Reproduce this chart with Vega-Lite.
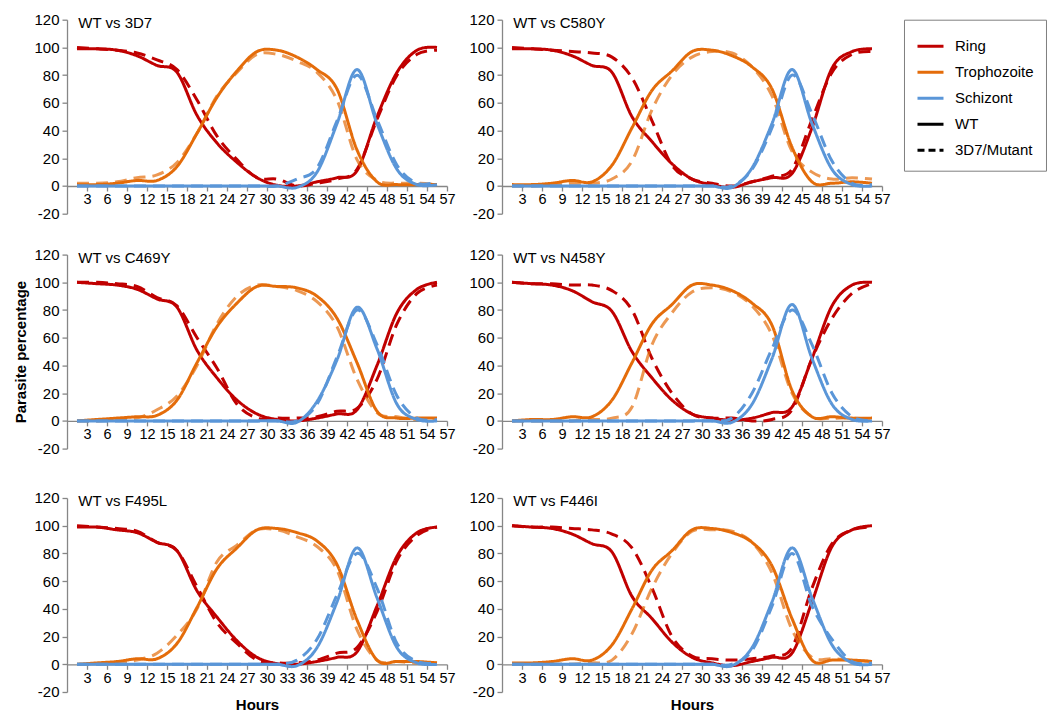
{
"$schema":"https://vega.github.io/schema/vega-lite/v6.json",
"padding":{"left":13,"top":12.7,"right":5,"bottom":3},
"config":{"font":"Liberation Sans","view":{"stroke":null},
"axis":{"domainColor":"#868686","tickColor":"#868686","domainWidth":1.3,"tickWidth":1.3,"labelColor":"#000","titleColor":"#000","grid":false,"titleFontSize":15,"titleFontWeight":"bold","labelFont":"Liberation Sans","titleFont":"Liberation Sans"},
"axisX":{"offset":-27.7,"tickSize":5,"labelPadding":2,"labelFontSize":14.5,"titlePadding":13},
"axisY":{"tickSize":5,"labelPadding":3,"labelFontSize":15,"titlePadding":5},
"legend":{"labelFont":"Liberation Sans","labelFontSize":15,"labelColor":"#000"}},
"resolve":{"scale":{"color":"shared","strokeDash":"shared"}},
"spacing":25.9,
"vconcat":[
{"hconcat":[
{"width":380,"height":194,
"data":{"values":[
{"s":"R","g":"W","h":1.5,"v":99},{"s":"R","g":"W","h":4.5,"v":99},{"s":"R","g":"W","h":7.5,"v":98},{"s":"R","g":"W","h":10.5,"v":94},{"s":"R","g":"W","h":13.5,"v":87},{"s":"R","g":"W","h":16.5,"v":82},{"s":"R","g":"W","h":19.5,"v":51},{"s":"R","g":"W","h":22.5,"v":31},{"s":"R","g":"W","h":25.5,"v":17},{"s":"R","g":"W","h":28.5,"v":6},{"s":"R","g":"W","h":31.5,"v":0.5},{"s":"R","g":"W","h":34.5,"v":0},{"s":"R","g":"W","h":37.5,"v":3},{"s":"R","g":"W","h":40.5,"v":6},{"s":"R","g":"W","h":43.5,"v":11},{"s":"R","g":"W","h":46.5,"v":50},{"s":"R","g":"W","h":49.5,"v":82},{"s":"R","g":"W","h":52.5,"v":98},{"s":"R","g":"W","h":55.5,"v":100},
{"s":"R","g":"M","h":1.5,"v":100},{"s":"R","g":"M","h":4.5,"v":99},{"s":"R","g":"M","h":7.5,"v":98},{"s":"R","g":"M","h":10.5,"v":96},{"s":"R","g":"M","h":13.5,"v":91},{"s":"R","g":"M","h":16.5,"v":84},{"s":"R","g":"M","h":19.5,"v":62},{"s":"R","g":"M","h":22.5,"v":36},{"s":"R","g":"M","h":25.5,"v":19},{"s":"R","g":"M","h":28.5,"v":6},{"s":"R","g":"M","h":31.5,"v":5},{"s":"R","g":"M","h":34.5,"v":0},{"s":"R","g":"M","h":37.5,"v":2},{"s":"R","g":"M","h":40.5,"v":5},{"s":"R","g":"M","h":43.5,"v":12},{"s":"R","g":"M","h":46.5,"v":48},{"s":"R","g":"M","h":49.5,"v":80},{"s":"R","g":"M","h":52.5,"v":95},{"s":"R","g":"M","h":55.5,"v":98},
{"s":"T","g":"W","h":1.5,"v":1},{"s":"T","g":"W","h":4.5,"v":1},{"s":"T","g":"W","h":7.5,"v":2},{"s":"T","g":"W","h":10.5,"v":4},{"s":"T","g":"W","h":13.5,"v":4},{"s":"T","g":"W","h":16.5,"v":14},{"s":"T","g":"W","h":19.5,"v":38},{"s":"T","g":"W","h":22.5,"v":64},{"s":"T","g":"W","h":25.5,"v":83},{"s":"T","g":"W","h":28.5,"v":97},{"s":"T","g":"W","h":31.5,"v":98},{"s":"T","g":"W","h":34.5,"v":93},{"s":"T","g":"W","h":37.5,"v":84},{"s":"T","g":"W","h":40.5,"v":70},{"s":"T","g":"W","h":43.5,"v":26},{"s":"T","g":"W","h":46.5,"v":3},{"s":"T","g":"W","h":49.5,"v":1},{"s":"T","g":"W","h":52.5,"v":1},{"s":"T","g":"W","h":55.5,"v":1},
{"s":"T","g":"M","h":1.5,"v":2},{"s":"T","g":"M","h":4.5,"v":2},{"s":"T","g":"M","h":7.5,"v":3},{"s":"T","g":"M","h":10.5,"v":6},{"s":"T","g":"M","h":13.5,"v":8},{"s":"T","g":"M","h":16.5,"v":17},{"s":"T","g":"M","h":19.5,"v":38},{"s":"T","g":"M","h":22.5,"v":65},{"s":"T","g":"M","h":25.5,"v":82},{"s":"T","g":"M","h":28.5,"v":95},{"s":"T","g":"M","h":31.5,"v":95},{"s":"T","g":"M","h":34.5,"v":90},{"s":"T","g":"M","h":37.5,"v":82},{"s":"T","g":"M","h":40.5,"v":62},{"s":"T","g":"M","h":43.5,"v":19},{"s":"T","g":"M","h":46.5,"v":4},{"s":"T","g":"M","h":49.5,"v":2},{"s":"T","g":"M","h":52.5,"v":2},{"s":"T","g":"M","h":55.5,"v":1},
{"s":"S","g":"W","h":1.5,"v":0},{"s":"S","g":"W","h":4.5,"v":0},{"s":"S","g":"W","h":7.5,"v":0},{"s":"S","g":"W","h":10.5,"v":0},{"s":"S","g":"W","h":13.5,"v":0},{"s":"S","g":"W","h":16.5,"v":0},{"s":"S","g":"W","h":19.5,"v":0},{"s":"S","g":"W","h":22.5,"v":0},{"s":"S","g":"W","h":25.5,"v":0},{"s":"S","g":"W","h":28.5,"v":0},{"s":"S","g":"W","h":31.5,"v":0},{"s":"S","g":"W","h":34.5,"v":-1},{"s":"S","g":"W","h":37.5,"v":10},{"s":"S","g":"W","h":40.5,"v":45},{"s":"S","g":"W","h":43.5,"v":84},{"s":"S","g":"W","h":46.5,"v":45},{"s":"S","g":"W","h":49.5,"v":12},{"s":"S","g":"W","h":52.5,"v":1},{"s":"S","g":"W","h":55.5,"v":1},
{"s":"S","g":"M","h":1.5,"v":0},{"s":"S","g":"M","h":4.5,"v":0},{"s":"S","g":"M","h":7.5,"v":0},{"s":"S","g":"M","h":10.5,"v":0},{"s":"S","g":"M","h":13.5,"v":0},{"s":"S","g":"M","h":16.5,"v":0},{"s":"S","g":"M","h":19.5,"v":0},{"s":"S","g":"M","h":22.5,"v":0},{"s":"S","g":"M","h":25.5,"v":0},{"s":"S","g":"M","h":28.5,"v":0},{"s":"S","g":"M","h":31.5,"v":0},{"s":"S","g":"M","h":34.5,"v":5},{"s":"S","g":"M","h":37.5,"v":13},{"s":"S","g":"M","h":40.5,"v":47},{"s":"S","g":"M","h":43.5,"v":80},{"s":"S","g":"M","h":46.5,"v":48},{"s":"S","g":"M","h":49.5,"v":15},{"s":"S","g":"M","h":52.5,"v":2},{"s":"S","g":"M","h":55.5,"v":3}
]},
"layer":[
{"mark":{"type":"line","interpolate":"cardinal","strokeWidth":3},
"encoding":{
"x":{"field":"h","type":"quantitative","scale":{"domain":[0,57],"nice":false,"zero":false},"axis":{"values":[3,6,9,12,15,18,21,24,27,30,33,36,39,42,45,48,51,54,57],"tickCount":100,"title":null,"labelOverlap":false,"labelFlush":false,"labelExpr":"''+datum.value"}},
"y":{"field":"v","type":"quantitative","scale":{"domain":[-20,120],"nice":false},"axis":{"values":[-20,0,20,40,60,80,100,120],"tickCount":100,"title":" ","labelOverlap":false,"labelFlush":false,"labelExpr":"''+datum.value"}},
"color":{"field":"s","type":"nominal","scale":{"domain":["R","T","S","W","M"],"range":["#C00000","#E46C0A","#5A96D8","#000000","#000000"]},"legend":{"title":null,"orient":"right","offset":13,"symbolType":"stroke","symbolStrokeWidth":3,"symbolSize":676,"labelOffset":10,"strokeColor":"#7f7f7f","padding":12,"rowPadding":3,"labelExpr":"datum.label=='R'?'Ring':datum.label=='T'?'Trophozoite':datum.label=='S'?'Schizont':datum.label=='W'?'WT':'3D7/Mutant'","encode":{"symbols":{"update":{"strokeDash":{"signal":"datum.value=='M'?[7,4]:[1,0]"}}}}}},
"strokeOpacity":{"condition":{"test":"datum.s=='T'&&datum.g=='M'","value":0.7},"value":1},
"strokeDash":{"field":"g","type":"nominal","scale":{"domain":["W","M"],"range":[[1,0],[12,7]]},"legend":null}}},
{"data":{"values":[{"t":"WT vs 3D7"}]},"mark":{"type":"text","align":"left","baseline":"middle","fontSize":15,"color":"#000"},
"encoding":{"x":{"datum":1.7,"type":"quantitative"},"y":{"datum":117.5,"type":"quantitative"},"text":{"field":"t"}}}
]},
{"width":380,"height":194,
"data":{"values":[
{"s":"R","g":"W","h":1.5,"v":99},{"s":"R","g":"W","h":4.5,"v":99},{"s":"R","g":"W","h":7.5,"v":98},{"s":"R","g":"W","h":10.5,"v":94},{"s":"R","g":"W","h":13.5,"v":87},{"s":"R","g":"W","h":16.5,"v":82},{"s":"R","g":"W","h":19.5,"v":50},{"s":"R","g":"W","h":22.5,"v":32},{"s":"R","g":"W","h":25.5,"v":16},{"s":"R","g":"W","h":28.5,"v":5},{"s":"R","g":"W","h":31.5,"v":1},{"s":"R","g":"W","h":34.5,"v":-1},{"s":"R","g":"W","h":37.5,"v":3},{"s":"R","g":"W","h":40.5,"v":6},{"s":"R","g":"W","h":43.5,"v":9},{"s":"R","g":"W","h":46.5,"v":42},{"s":"R","g":"W","h":49.5,"v":85},{"s":"R","g":"W","h":52.5,"v":97},{"s":"R","g":"W","h":55.5,"v":99},
{"s":"R","g":"M","h":1.5,"v":100},{"s":"R","g":"M","h":4.5,"v":99},{"s":"R","g":"M","h":7.5,"v":98},{"s":"R","g":"M","h":10.5,"v":97},{"s":"R","g":"M","h":13.5,"v":96},{"s":"R","g":"M","h":16.5,"v":93},{"s":"R","g":"M","h":19.5,"v":78},{"s":"R","g":"M","h":22.5,"v":47},{"s":"R","g":"M","h":25.5,"v":15},{"s":"R","g":"M","h":28.5,"v":5},{"s":"R","g":"M","h":31.5,"v":2},{"s":"R","g":"M","h":34.5,"v":0},{"s":"R","g":"M","h":37.5,"v":3},{"s":"R","g":"M","h":40.5,"v":7},{"s":"R","g":"M","h":43.5,"v":12},{"s":"R","g":"M","h":46.5,"v":48},{"s":"R","g":"M","h":49.5,"v":82},{"s":"R","g":"M","h":52.5,"v":95},{"s":"R","g":"M","h":55.5,"v":97},
{"s":"T","g":"W","h":1.5,"v":1},{"s":"T","g":"W","h":4.5,"v":1},{"s":"T","g":"W","h":7.5,"v":2},{"s":"T","g":"W","h":10.5,"v":4},{"s":"T","g":"W","h":13.5,"v":3},{"s":"T","g":"W","h":16.5,"v":15},{"s":"T","g":"W","h":19.5,"v":42},{"s":"T","g":"W","h":22.5,"v":69},{"s":"T","g":"W","h":25.5,"v":83},{"s":"T","g":"W","h":28.5,"v":97},{"s":"T","g":"W","h":31.5,"v":98},{"s":"T","g":"W","h":34.5,"v":94},{"s":"T","g":"W","h":37.5,"v":86},{"s":"T","g":"W","h":40.5,"v":70},{"s":"T","g":"W","h":43.5,"v":28},{"s":"T","g":"W","h":46.5,"v":3},{"s":"T","g":"W","h":49.5,"v":2},{"s":"T","g":"W","h":52.5,"v":3},{"s":"T","g":"W","h":55.5,"v":2},
{"s":"T","g":"M","h":1.5,"v":0},{"s":"T","g":"M","h":4.5,"v":0},{"s":"T","g":"M","h":7.5,"v":1},{"s":"T","g":"M","h":10.5,"v":2},{"s":"T","g":"M","h":13.5,"v":2},{"s":"T","g":"M","h":16.5,"v":5},{"s":"T","g":"M","h":19.5,"v":18},{"s":"T","g":"M","h":22.5,"v":55},{"s":"T","g":"M","h":25.5,"v":80},{"s":"T","g":"M","h":28.5,"v":93},{"s":"T","g":"M","h":31.5,"v":97},{"s":"T","g":"M","h":34.5,"v":96},{"s":"T","g":"M","h":37.5,"v":86},{"s":"T","g":"M","h":40.5,"v":65},{"s":"T","g":"M","h":43.5,"v":25},{"s":"T","g":"M","h":46.5,"v":10},{"s":"T","g":"M","h":49.5,"v":5},{"s":"T","g":"M","h":52.5,"v":6},{"s":"T","g":"M","h":55.5,"v":5},
{"s":"S","g":"W","h":1.5,"v":0},{"s":"S","g":"W","h":4.5,"v":0},{"s":"S","g":"W","h":7.5,"v":0},{"s":"S","g":"W","h":10.5,"v":0},{"s":"S","g":"W","h":13.5,"v":0},{"s":"S","g":"W","h":16.5,"v":0},{"s":"S","g":"W","h":19.5,"v":0},{"s":"S","g":"W","h":22.5,"v":0},{"s":"S","g":"W","h":25.5,"v":0},{"s":"S","g":"W","h":28.5,"v":0},{"s":"S","g":"W","h":31.5,"v":0},{"s":"S","g":"W","h":34.5,"v":-1},{"s":"S","g":"W","h":37.5,"v":13},{"s":"S","g":"W","h":40.5,"v":45},{"s":"S","g":"W","h":43.5,"v":84},{"s":"S","g":"W","h":46.5,"v":45},{"s":"S","g":"W","h":49.5,"v":12},{"s":"S","g":"W","h":52.5,"v":1},{"s":"S","g":"W","h":55.5,"v":0},
{"s":"S","g":"M","h":1.5,"v":0},{"s":"S","g":"M","h":4.5,"v":0},{"s":"S","g":"M","h":7.5,"v":0},{"s":"S","g":"M","h":10.5,"v":0},{"s":"S","g":"M","h":13.5,"v":0},{"s":"S","g":"M","h":16.5,"v":0},{"s":"S","g":"M","h":19.5,"v":0},{"s":"S","g":"M","h":22.5,"v":0},{"s":"S","g":"M","h":25.5,"v":0},{"s":"S","g":"M","h":28.5,"v":0},{"s":"S","g":"M","h":31.5,"v":0},{"s":"S","g":"M","h":34.5,"v":0},{"s":"S","g":"M","h":37.5,"v":12},{"s":"S","g":"M","h":40.5,"v":42},{"s":"S","g":"M","h":43.5,"v":80},{"s":"S","g":"M","h":46.5,"v":52},{"s":"S","g":"M","h":49.5,"v":18},{"s":"S","g":"M","h":52.5,"v":2},{"s":"S","g":"M","h":55.5,"v":1}
]},
"layer":[
{"mark":{"type":"line","interpolate":"cardinal","strokeWidth":3},
"encoding":{
"x":{"field":"h","type":"quantitative","scale":{"domain":[0,57],"nice":false,"zero":false},"axis":{"values":[3,6,9,12,15,18,21,24,27,30,33,36,39,42,45,48,51,54,57],"tickCount":100,"title":null,"labelOverlap":false,"labelFlush":false,"labelExpr":"''+datum.value"}},
"y":{"field":"v","type":"quantitative","scale":{"domain":[-20,120],"nice":false},"axis":{"values":[-20,0,20,40,60,80,100,120],"tickCount":100,"title":null,"labelOverlap":false,"labelFlush":false,"labelExpr":"''+datum.value"}},
"color":{"field":"s","type":"nominal","scale":{"domain":["R","T","S","W","M"],"range":["#C00000","#E46C0A","#5A96D8","#000000","#000000"]},"legend":{"title":null,"orient":"right","offset":13,"symbolType":"stroke","symbolStrokeWidth":3,"symbolSize":676,"labelOffset":10,"strokeColor":"#7f7f7f","padding":12,"rowPadding":3,"labelExpr":"datum.label=='R'?'Ring':datum.label=='T'?'Trophozoite':datum.label=='S'?'Schizont':datum.label=='W'?'WT':'3D7/Mutant'","encode":{"symbols":{"update":{"strokeDash":{"signal":"datum.value=='M'?[7,4]:[1,0]"}}}}}},
"strokeOpacity":{"condition":{"test":"datum.s=='T'&&datum.g=='M'","value":0.7},"value":1},
"strokeDash":{"field":"g","type":"nominal","scale":{"domain":["W","M"],"range":[[1,0],[12,7]]},"legend":null}}},
{"data":{"values":[{"t":"WT vs C580Y"}]},"mark":{"type":"text","align":"left","baseline":"middle","fontSize":15,"color":"#000"},
"encoding":{"x":{"datum":1.7,"type":"quantitative"},"y":{"datum":117.5,"type":"quantitative"},"text":{"field":"t"}}}
]}
],"spacing":12},
{"vconcat":[
{"hconcat":[
{"width":380,"height":194,
"data":{"values":[
{"s":"R","g":"W","h":1.5,"v":100},{"s":"R","g":"W","h":4.5,"v":99},{"s":"R","g":"W","h":7.5,"v":98},{"s":"R","g":"W","h":10.5,"v":95},{"s":"R","g":"W","h":13.5,"v":88},{"s":"R","g":"W","h":16.5,"v":82},{"s":"R","g":"W","h":19.5,"v":51},{"s":"R","g":"W","h":22.5,"v":31},{"s":"R","g":"W","h":25.5,"v":15},{"s":"R","g":"W","h":28.5,"v":5},{"s":"R","g":"W","h":31.5,"v":1},{"s":"R","g":"W","h":34.5,"v":0},{"s":"R","g":"W","h":37.5,"v":2},{"s":"R","g":"W","h":40.5,"v":5},{"s":"R","g":"W","h":43.5,"v":8},{"s":"R","g":"W","h":46.5,"v":40},{"s":"R","g":"W","h":49.5,"v":78},{"s":"R","g":"W","h":52.5,"v":95},{"s":"R","g":"W","h":55.5,"v":100},
{"s":"R","g":"M","h":1.5,"v":100},{"s":"R","g":"M","h":4.5,"v":100},{"s":"R","g":"M","h":7.5,"v":99},{"s":"R","g":"M","h":10.5,"v":97},{"s":"R","g":"M","h":13.5,"v":89},{"s":"R","g":"M","h":16.5,"v":83},{"s":"R","g":"M","h":19.5,"v":60},{"s":"R","g":"M","h":22.5,"v":38},{"s":"R","g":"M","h":25.5,"v":12},{"s":"R","g":"M","h":28.5,"v":2},{"s":"R","g":"M","h":31.5,"v":2},{"s":"R","g":"M","h":34.5,"v":2},{"s":"R","g":"M","h":37.5,"v":3},{"s":"R","g":"M","h":40.5,"v":7},{"s":"R","g":"M","h":43.5,"v":9},{"s":"R","g":"M","h":46.5,"v":30},{"s":"R","g":"M","h":49.5,"v":70},{"s":"R","g":"M","h":52.5,"v":92},{"s":"R","g":"M","h":55.5,"v":98},
{"s":"T","g":"W","h":1.5,"v":0},{"s":"T","g":"W","h":4.5,"v":1},{"s":"T","g":"W","h":7.5,"v":2},{"s":"T","g":"W","h":10.5,"v":3},{"s":"T","g":"W","h":13.5,"v":4},{"s":"T","g":"W","h":16.5,"v":15},{"s":"T","g":"W","h":19.5,"v":42},{"s":"T","g":"W","h":22.5,"v":68},{"s":"T","g":"W","h":25.5,"v":85},{"s":"T","g":"W","h":28.5,"v":97},{"s":"T","g":"W","h":31.5,"v":97},{"s":"T","g":"W","h":34.5,"v":96},{"s":"T","g":"W","h":37.5,"v":90},{"s":"T","g":"W","h":40.5,"v":74},{"s":"T","g":"W","h":43.5,"v":42},{"s":"T","g":"W","h":46.5,"v":7},{"s":"T","g":"W","h":49.5,"v":2},{"s":"T","g":"W","h":52.5,"v":2},{"s":"T","g":"W","h":55.5,"v":2},
{"s":"T","g":"M","h":1.5,"v":0},{"s":"T","g":"M","h":4.5,"v":0},{"s":"T","g":"M","h":7.5,"v":1},{"s":"T","g":"M","h":10.5,"v":2},{"s":"T","g":"M","h":13.5,"v":8},{"s":"T","g":"M","h":16.5,"v":18},{"s":"T","g":"M","h":19.5,"v":40},{"s":"T","g":"M","h":22.5,"v":70},{"s":"T","g":"M","h":25.5,"v":90},{"s":"T","g":"M","h":28.5,"v":98},{"s":"T","g":"M","h":31.5,"v":97},{"s":"T","g":"M","h":34.5,"v":94},{"s":"T","g":"M","h":37.5,"v":86},{"s":"T","g":"M","h":40.5,"v":68},{"s":"T","g":"M","h":43.5,"v":30},{"s":"T","g":"M","h":46.5,"v":6},{"s":"T","g":"M","h":49.5,"v":3},{"s":"T","g":"M","h":52.5,"v":1},{"s":"T","g":"M","h":55.5,"v":1},
{"s":"S","g":"W","h":1.5,"v":0},{"s":"S","g":"W","h":4.5,"v":0},{"s":"S","g":"W","h":7.5,"v":0},{"s":"S","g":"W","h":10.5,"v":0},{"s":"S","g":"W","h":13.5,"v":0},{"s":"S","g":"W","h":16.5,"v":0},{"s":"S","g":"W","h":19.5,"v":0},{"s":"S","g":"W","h":22.5,"v":0},{"s":"S","g":"W","h":25.5,"v":0},{"s":"S","g":"W","h":28.5,"v":0},{"s":"S","g":"W","h":31.5,"v":0},{"s":"S","g":"W","h":34.5,"v":-1},{"s":"S","g":"W","h":37.5,"v":14},{"s":"S","g":"W","h":40.5,"v":44},{"s":"S","g":"W","h":43.5,"v":82},{"s":"S","g":"W","h":46.5,"v":52},{"s":"S","g":"W","h":49.5,"v":12},{"s":"S","g":"W","h":52.5,"v":1},{"s":"S","g":"W","h":55.5,"v":0},
{"s":"S","g":"M","h":1.5,"v":0},{"s":"S","g":"M","h":4.5,"v":0},{"s":"S","g":"M","h":7.5,"v":0},{"s":"S","g":"M","h":10.5,"v":0},{"s":"S","g":"M","h":13.5,"v":0},{"s":"S","g":"M","h":16.5,"v":0},{"s":"S","g":"M","h":19.5,"v":0},{"s":"S","g":"M","h":22.5,"v":0},{"s":"S","g":"M","h":25.5,"v":0},{"s":"S","g":"M","h":28.5,"v":0},{"s":"S","g":"M","h":31.5,"v":0},{"s":"S","g":"M","h":34.5,"v":0},{"s":"S","g":"M","h":37.5,"v":12},{"s":"S","g":"M","h":40.5,"v":46},{"s":"S","g":"M","h":43.5,"v":80},{"s":"S","g":"M","h":46.5,"v":55},{"s":"S","g":"M","h":49.5,"v":18},{"s":"S","g":"M","h":52.5,"v":2},{"s":"S","g":"M","h":55.5,"v":1}
]},
"layer":[
{"mark":{"type":"line","interpolate":"cardinal","strokeWidth":3},
"encoding":{
"x":{"field":"h","type":"quantitative","scale":{"domain":[0,57],"nice":false,"zero":false},"axis":{"values":[3,6,9,12,15,18,21,24,27,30,33,36,39,42,45,48,51,54,57],"tickCount":100,"title":null,"labelOverlap":false,"labelFlush":false,"labelExpr":"''+datum.value"}},
"y":{"field":"v","type":"quantitative","scale":{"domain":[-20,120],"nice":false},"axis":{"values":[-20,0,20,40,60,80,100,120],"tickCount":100,"title":"Parasite percentage","labelOverlap":false,"labelFlush":false,"labelExpr":"''+datum.value"}},
"color":{"field":"s","type":"nominal","scale":{"domain":["R","T","S","W","M"],"range":["#C00000","#E46C0A","#5A96D8","#000000","#000000"]},"legend":{"title":null,"orient":"right","offset":13,"symbolType":"stroke","symbolStrokeWidth":3,"symbolSize":676,"labelOffset":10,"strokeColor":"#7f7f7f","padding":12,"rowPadding":3,"labelExpr":"datum.label=='R'?'Ring':datum.label=='T'?'Trophozoite':datum.label=='S'?'Schizont':datum.label=='W'?'WT':'3D7/Mutant'","encode":{"symbols":{"update":{"strokeDash":{"signal":"datum.value=='M'?[7,4]:[1,0]"}}}}}},
"strokeOpacity":{"condition":{"test":"datum.s=='T'&&datum.g=='M'","value":0.7},"value":1},
"strokeDash":{"field":"g","type":"nominal","scale":{"domain":["W","M"],"range":[[1,0],[12,7]]},"legend":null}}},
{"data":{"values":[{"t":"WT vs C469Y"}]},"mark":{"type":"text","align":"left","baseline":"middle","fontSize":15,"color":"#000"},
"encoding":{"x":{"datum":1.7,"type":"quantitative"},"y":{"datum":117.5,"type":"quantitative"},"text":{"field":"t"}}}
]},
{"width":380,"height":194,
"data":{"values":[
{"s":"R","g":"W","h":1.5,"v":100},{"s":"R","g":"W","h":4.5,"v":99},{"s":"R","g":"W","h":7.5,"v":98},{"s":"R","g":"W","h":10.5,"v":94},{"s":"R","g":"W","h":13.5,"v":86},{"s":"R","g":"W","h":16.5,"v":79},{"s":"R","g":"W","h":19.5,"v":50},{"s":"R","g":"W","h":22.5,"v":31},{"s":"R","g":"W","h":25.5,"v":15},{"s":"R","g":"W","h":28.5,"v":5},{"s":"R","g":"W","h":31.5,"v":2},{"s":"R","g":"W","h":34.5,"v":0.5},{"s":"R","g":"W","h":37.5,"v":2},{"s":"R","g":"W","h":40.5,"v":6},{"s":"R","g":"W","h":43.5,"v":10},{"s":"R","g":"W","h":46.5,"v":45},{"s":"R","g":"W","h":49.5,"v":83},{"s":"R","g":"W","h":52.5,"v":98},{"s":"R","g":"W","h":55.5,"v":100},
{"s":"R","g":"M","h":1.5,"v":100},{"s":"R","g":"M","h":4.5,"v":99},{"s":"R","g":"M","h":7.5,"v":99},{"s":"R","g":"M","h":10.5,"v":98},{"s":"R","g":"M","h":13.5,"v":98},{"s":"R","g":"M","h":16.5,"v":94},{"s":"R","g":"M","h":19.5,"v":80},{"s":"R","g":"M","h":22.5,"v":45},{"s":"R","g":"M","h":25.5,"v":20},{"s":"R","g":"M","h":28.5,"v":5},{"s":"R","g":"M","h":31.5,"v":2},{"s":"R","g":"M","h":34.5,"v":2},{"s":"R","g":"M","h":37.5,"v":0},{"s":"R","g":"M","h":40.5,"v":1},{"s":"R","g":"M","h":43.5,"v":8},{"s":"R","g":"M","h":46.5,"v":45},{"s":"R","g":"M","h":49.5,"v":74},{"s":"R","g":"M","h":52.5,"v":92},{"s":"R","g":"M","h":55.5,"v":99},
{"s":"T","g":"W","h":1.5,"v":0},{"s":"T","g":"W","h":4.5,"v":1},{"s":"T","g":"W","h":7.5,"v":1},{"s":"T","g":"W","h":10.5,"v":3},{"s":"T","g":"W","h":13.5,"v":3},{"s":"T","g":"W","h":16.5,"v":15},{"s":"T","g":"W","h":19.5,"v":42},{"s":"T","g":"W","h":22.5,"v":70},{"s":"T","g":"W","h":25.5,"v":84},{"s":"T","g":"W","h":28.5,"v":98},{"s":"T","g":"W","h":31.5,"v":98},{"s":"T","g":"W","h":34.5,"v":94},{"s":"T","g":"W","h":37.5,"v":85},{"s":"T","g":"W","h":40.5,"v":69},{"s":"T","g":"W","h":43.5,"v":22},{"s":"T","g":"W","h":46.5,"v":3},{"s":"T","g":"W","h":49.5,"v":3},{"s":"T","g":"W","h":52.5,"v":2},{"s":"T","g":"W","h":55.5,"v":2},
{"s":"T","g":"M","h":1.5,"v":0},{"s":"T","g":"M","h":4.5,"v":0},{"s":"T","g":"M","h":7.5,"v":0},{"s":"T","g":"M","h":10.5,"v":0},{"s":"T","g":"M","h":13.5,"v":1},{"s":"T","g":"M","h":16.5,"v":2},{"s":"T","g":"M","h":19.5,"v":10},{"s":"T","g":"M","h":22.5,"v":55},{"s":"T","g":"M","h":25.5,"v":78},{"s":"T","g":"M","h":28.5,"v":93},{"s":"T","g":"M","h":31.5,"v":96},{"s":"T","g":"M","h":34.5,"v":93},{"s":"T","g":"M","h":37.5,"v":83},{"s":"T","g":"M","h":40.5,"v":62},{"s":"T","g":"M","h":43.5,"v":20},{"s":"T","g":"M","h":46.5,"v":3},{"s":"T","g":"M","h":49.5,"v":2},{"s":"T","g":"M","h":52.5,"v":2},{"s":"T","g":"M","h":55.5,"v":1},
{"s":"S","g":"W","h":1.5,"v":0},{"s":"S","g":"W","h":4.5,"v":0},{"s":"S","g":"W","h":7.5,"v":0},{"s":"S","g":"W","h":10.5,"v":0},{"s":"S","g":"W","h":13.5,"v":0},{"s":"S","g":"W","h":16.5,"v":0},{"s":"S","g":"W","h":19.5,"v":0},{"s":"S","g":"W","h":22.5,"v":0},{"s":"S","g":"W","h":25.5,"v":0},{"s":"S","g":"W","h":28.5,"v":0},{"s":"S","g":"W","h":31.5,"v":0},{"s":"S","g":"W","h":34.5,"v":-1},{"s":"S","g":"W","h":37.5,"v":12},{"s":"S","g":"W","h":40.5,"v":45},{"s":"S","g":"W","h":43.5,"v":84},{"s":"S","g":"W","h":46.5,"v":45},{"s":"S","g":"W","h":49.5,"v":12},{"s":"S","g":"W","h":52.5,"v":1},{"s":"S","g":"W","h":55.5,"v":0},
{"s":"S","g":"M","h":1.5,"v":0},{"s":"S","g":"M","h":4.5,"v":0},{"s":"S","g":"M","h":7.5,"v":0},{"s":"S","g":"M","h":10.5,"v":0},{"s":"S","g":"M","h":13.5,"v":0},{"s":"S","g":"M","h":16.5,"v":0},{"s":"S","g":"M","h":19.5,"v":0},{"s":"S","g":"M","h":22.5,"v":0},{"s":"S","g":"M","h":25.5,"v":0},{"s":"S","g":"M","h":28.5,"v":0},{"s":"S","g":"M","h":31.5,"v":0},{"s":"S","g":"M","h":34.5,"v":2},{"s":"S","g":"M","h":37.5,"v":20},{"s":"S","g":"M","h":40.5,"v":52},{"s":"S","g":"M","h":43.5,"v":80},{"s":"S","g":"M","h":46.5,"v":55},{"s":"S","g":"M","h":49.5,"v":20},{"s":"S","g":"M","h":52.5,"v":3},{"s":"S","g":"M","h":55.5,"v":0}
]},
"layer":[
{"mark":{"type":"line","interpolate":"cardinal","strokeWidth":3},
"encoding":{
"x":{"field":"h","type":"quantitative","scale":{"domain":[0,57],"nice":false,"zero":false},"axis":{"values":[3,6,9,12,15,18,21,24,27,30,33,36,39,42,45,48,51,54,57],"tickCount":100,"title":null,"labelOverlap":false,"labelFlush":false,"labelExpr":"''+datum.value"}},
"y":{"field":"v","type":"quantitative","scale":{"domain":[-20,120],"nice":false},"axis":{"values":[-20,0,20,40,60,80,100,120],"tickCount":100,"title":null,"labelOverlap":false,"labelFlush":false,"labelExpr":"''+datum.value"}},
"color":{"field":"s","type":"nominal","scale":{"domain":["R","T","S","W","M"],"range":["#C00000","#E46C0A","#5A96D8","#000000","#000000"]},"legend":{"title":null,"orient":"right","offset":13,"symbolType":"stroke","symbolStrokeWidth":3,"symbolSize":676,"labelOffset":10,"strokeColor":"#7f7f7f","padding":12,"rowPadding":3,"labelExpr":"datum.label=='R'?'Ring':datum.label=='T'?'Trophozoite':datum.label=='S'?'Schizont':datum.label=='W'?'WT':'3D7/Mutant'","encode":{"symbols":{"update":{"strokeDash":{"signal":"datum.value=='M'?[7,4]:[1,0]"}}}}}},
"strokeOpacity":{"condition":{"test":"datum.s=='T'&&datum.g=='M'","value":0.7},"value":1},
"strokeDash":{"field":"g","type":"nominal","scale":{"domain":["W","M"],"range":[[1,0],[12,7]]},"legend":null}}},
{"data":{"values":[{"t":"WT vs N458Y"}]},"mark":{"type":"text","align":"left","baseline":"middle","fontSize":15,"color":"#000"},
"encoding":{"x":{"datum":1.7,"type":"quantitative"},"y":{"datum":117.5,"type":"quantitative"},"text":{"field":"t"}}}
]}
],"spacing":12},
{"hconcat":[
{"width":380,"height":194,
"data":{"values":[
{"s":"R","g":"W","h":1.5,"v":99},{"s":"R","g":"W","h":4.5,"v":99},{"s":"R","g":"W","h":7.5,"v":97},{"s":"R","g":"W","h":10.5,"v":95},{"s":"R","g":"W","h":13.5,"v":88},{"s":"R","g":"W","h":16.5,"v":82},{"s":"R","g":"W","h":19.5,"v":53},{"s":"R","g":"W","h":22.5,"v":34},{"s":"R","g":"W","h":25.5,"v":17},{"s":"R","g":"W","h":28.5,"v":5},{"s":"R","g":"W","h":31.5,"v":0.5},{"s":"R","g":"W","h":34.5,"v":0},{"s":"R","g":"W","h":37.5,"v":2},{"s":"R","g":"W","h":40.5,"v":5},{"s":"R","g":"W","h":43.5,"v":9},{"s":"R","g":"W","h":46.5,"v":42},{"s":"R","g":"W","h":49.5,"v":78},{"s":"R","g":"W","h":52.5,"v":95},{"s":"R","g":"W","h":55.5,"v":99},
{"s":"R","g":"M","h":1.5,"v":100},{"s":"R","g":"M","h":4.5,"v":99},{"s":"R","g":"M","h":7.5,"v":98},{"s":"R","g":"M","h":10.5,"v":96},{"s":"R","g":"M","h":13.5,"v":88},{"s":"R","g":"M","h":16.5,"v":82},{"s":"R","g":"M","h":19.5,"v":56},{"s":"R","g":"M","h":22.5,"v":30},{"s":"R","g":"M","h":25.5,"v":15},{"s":"R","g":"M","h":28.5,"v":3},{"s":"R","g":"M","h":31.5,"v":1},{"s":"R","g":"M","h":34.5,"v":1},{"s":"R","g":"M","h":37.5,"v":3},{"s":"R","g":"M","h":40.5,"v":8},{"s":"R","g":"M","h":43.5,"v":12},{"s":"R","g":"M","h":46.5,"v":38},{"s":"R","g":"M","h":49.5,"v":75},{"s":"R","g":"M","h":52.5,"v":93},{"s":"R","g":"M","h":55.5,"v":99},
{"s":"T","g":"W","h":1.5,"v":0},{"s":"T","g":"W","h":4.5,"v":1},{"s":"T","g":"W","h":7.5,"v":2},{"s":"T","g":"W","h":10.5,"v":4},{"s":"T","g":"W","h":13.5,"v":4},{"s":"T","g":"W","h":16.5,"v":15},{"s":"T","g":"W","h":19.5,"v":41},{"s":"T","g":"W","h":22.5,"v":69},{"s":"T","g":"W","h":25.5,"v":84},{"s":"T","g":"W","h":28.5,"v":97},{"s":"T","g":"W","h":31.5,"v":98},{"s":"T","g":"W","h":34.5,"v":95},{"s":"T","g":"W","h":37.5,"v":89},{"s":"T","g":"W","h":40.5,"v":72},{"s":"T","g":"W","h":43.5,"v":32},{"s":"T","g":"W","h":46.5,"v":3},{"s":"T","g":"W","h":49.5,"v":2},{"s":"T","g":"W","h":52.5,"v":2},{"s":"T","g":"W","h":55.5,"v":1},
{"s":"T","g":"M","h":1.5,"v":0},{"s":"T","g":"M","h":4.5,"v":0},{"s":"T","g":"M","h":7.5,"v":1},{"s":"T","g":"M","h":10.5,"v":3},{"s":"T","g":"M","h":13.5,"v":8},{"s":"T","g":"M","h":16.5,"v":21},{"s":"T","g":"M","h":19.5,"v":40},{"s":"T","g":"M","h":22.5,"v":74},{"s":"T","g":"M","h":25.5,"v":86},{"s":"T","g":"M","h":28.5,"v":97},{"s":"T","g":"M","h":31.5,"v":97},{"s":"T","g":"M","h":34.5,"v":92},{"s":"T","g":"M","h":37.5,"v":85},{"s":"T","g":"M","h":40.5,"v":68},{"s":"T","g":"M","h":43.5,"v":25},{"s":"T","g":"M","h":46.5,"v":3},{"s":"T","g":"M","h":49.5,"v":2},{"s":"T","g":"M","h":52.5,"v":1},{"s":"T","g":"M","h":55.5,"v":1},
{"s":"S","g":"W","h":1.5,"v":0},{"s":"S","g":"W","h":4.5,"v":0},{"s":"S","g":"W","h":7.5,"v":0},{"s":"S","g":"W","h":10.5,"v":0},{"s":"S","g":"W","h":13.5,"v":0},{"s":"S","g":"W","h":16.5,"v":0},{"s":"S","g":"W","h":19.5,"v":0},{"s":"S","g":"W","h":22.5,"v":0},{"s":"S","g":"W","h":25.5,"v":0},{"s":"S","g":"W","h":28.5,"v":0},{"s":"S","g":"W","h":31.5,"v":0},{"s":"S","g":"W","h":34.5,"v":-1},{"s":"S","g":"W","h":37.5,"v":12},{"s":"S","g":"W","h":40.5,"v":45},{"s":"S","g":"W","h":43.5,"v":84},{"s":"S","g":"W","h":46.5,"v":48},{"s":"S","g":"W","h":49.5,"v":12},{"s":"S","g":"W","h":52.5,"v":1},{"s":"S","g":"W","h":55.5,"v":0},
{"s":"S","g":"M","h":1.5,"v":0},{"s":"S","g":"M","h":4.5,"v":0},{"s":"S","g":"M","h":7.5,"v":0},{"s":"S","g":"M","h":10.5,"v":0},{"s":"S","g":"M","h":13.5,"v":0},{"s":"S","g":"M","h":16.5,"v":0},{"s":"S","g":"M","h":19.5,"v":0},{"s":"S","g":"M","h":22.5,"v":0},{"s":"S","g":"M","h":25.5,"v":0},{"s":"S","g":"M","h":28.5,"v":0},{"s":"S","g":"M","h":31.5,"v":0},{"s":"S","g":"M","h":34.5,"v":3},{"s":"S","g":"M","h":37.5,"v":18},{"s":"S","g":"M","h":40.5,"v":50},{"s":"S","g":"M","h":43.5,"v":80},{"s":"S","g":"M","h":46.5,"v":55},{"s":"S","g":"M","h":49.5,"v":15},{"s":"S","g":"M","h":52.5,"v":2},{"s":"S","g":"M","h":55.5,"v":1}
]},
"layer":[
{"mark":{"type":"line","interpolate":"cardinal","strokeWidth":3},
"encoding":{
"x":{"field":"h","type":"quantitative","scale":{"domain":[0,57],"nice":false,"zero":false},"axis":{"values":[3,6,9,12,15,18,21,24,27,30,33,36,39,42,45,48,51,54,57],"tickCount":100,"title":"Hours","labelOverlap":false,"labelFlush":false,"labelExpr":"''+datum.value"}},
"y":{"field":"v","type":"quantitative","scale":{"domain":[-20,120],"nice":false},"axis":{"values":[-20,0,20,40,60,80,100,120],"tickCount":100,"title":" ","labelOverlap":false,"labelFlush":false,"labelExpr":"''+datum.value"}},
"color":{"field":"s","type":"nominal","scale":{"domain":["R","T","S","W","M"],"range":["#C00000","#E46C0A","#5A96D8","#000000","#000000"]},"legend":{"title":null,"orient":"right","offset":13,"symbolType":"stroke","symbolStrokeWidth":3,"symbolSize":676,"labelOffset":10,"strokeColor":"#7f7f7f","padding":12,"rowPadding":3,"labelExpr":"datum.label=='R'?'Ring':datum.label=='T'?'Trophozoite':datum.label=='S'?'Schizont':datum.label=='W'?'WT':'3D7/Mutant'","encode":{"symbols":{"update":{"strokeDash":{"signal":"datum.value=='M'?[7,4]:[1,0]"}}}}}},
"strokeOpacity":{"condition":{"test":"datum.s=='T'&&datum.g=='M'","value":0.7},"value":1},
"strokeDash":{"field":"g","type":"nominal","scale":{"domain":["W","M"],"range":[[1,0],[12,7]]},"legend":null}}},
{"data":{"values":[{"t":"WT vs F495L"}]},"mark":{"type":"text","align":"left","baseline":"middle","fontSize":15,"color":"#000"},
"encoding":{"x":{"datum":1.7,"type":"quantitative"},"y":{"datum":117.5,"type":"quantitative"},"text":{"field":"t"}}}
]},
{"width":380,"height":194,
"data":{"values":[
{"s":"R","g":"W","h":1.5,"v":100},{"s":"R","g":"W","h":4.5,"v":99},{"s":"R","g":"W","h":7.5,"v":98},{"s":"R","g":"W","h":10.5,"v":94},{"s":"R","g":"W","h":13.5,"v":87},{"s":"R","g":"W","h":16.5,"v":81},{"s":"R","g":"W","h":19.5,"v":49},{"s":"R","g":"W","h":22.5,"v":33},{"s":"R","g":"W","h":25.5,"v":16},{"s":"R","g":"W","h":28.5,"v":5},{"s":"R","g":"W","h":31.5,"v":1},{"s":"R","g":"W","h":34.5,"v":-1},{"s":"R","g":"W","h":37.5,"v":2},{"s":"R","g":"W","h":40.5,"v":5},{"s":"R","g":"W","h":43.5,"v":8},{"s":"R","g":"W","h":46.5,"v":45},{"s":"R","g":"W","h":49.5,"v":85},{"s":"R","g":"W","h":52.5,"v":97},{"s":"R","g":"W","h":55.5,"v":100},
{"s":"R","g":"M","h":1.5,"v":100},{"s":"R","g":"M","h":4.5,"v":99},{"s":"R","g":"M","h":7.5,"v":99},{"s":"R","g":"M","h":10.5,"v":98},{"s":"R","g":"M","h":13.5,"v":97},{"s":"R","g":"M","h":16.5,"v":94},{"s":"R","g":"M","h":19.5,"v":84},{"s":"R","g":"M","h":22.5,"v":55},{"s":"R","g":"M","h":25.5,"v":20},{"s":"R","g":"M","h":28.5,"v":6},{"s":"R","g":"M","h":31.5,"v":4},{"s":"R","g":"M","h":34.5,"v":3},{"s":"R","g":"M","h":37.5,"v":4},{"s":"R","g":"M","h":40.5,"v":6},{"s":"R","g":"M","h":43.5,"v":12},{"s":"R","g":"M","h":46.5,"v":55},{"s":"R","g":"M","h":49.5,"v":87},{"s":"R","g":"M","h":52.5,"v":97},{"s":"R","g":"M","h":55.5,"v":99},
{"s":"T","g":"W","h":1.5,"v":1},{"s":"T","g":"W","h":4.5,"v":1},{"s":"T","g":"W","h":7.5,"v":2},{"s":"T","g":"W","h":10.5,"v":4},{"s":"T","g":"W","h":13.5,"v":3},{"s":"T","g":"W","h":16.5,"v":14},{"s":"T","g":"W","h":19.5,"v":40},{"s":"T","g":"W","h":22.5,"v":68},{"s":"T","g":"W","h":25.5,"v":82},{"s":"T","g":"W","h":28.5,"v":97},{"s":"T","g":"W","h":31.5,"v":98},{"s":"T","g":"W","h":34.5,"v":95},{"s":"T","g":"W","h":37.5,"v":88},{"s":"T","g":"W","h":40.5,"v":71},{"s":"T","g":"W","h":43.5,"v":33},{"s":"T","g":"W","h":46.5,"v":3},{"s":"T","g":"W","h":49.5,"v":3},{"s":"T","g":"W","h":52.5,"v":3},{"s":"T","g":"W","h":55.5,"v":2},
{"s":"T","g":"M","h":1.5,"v":0},{"s":"T","g":"M","h":4.5,"v":0},{"s":"T","g":"M","h":7.5,"v":0},{"s":"T","g":"M","h":10.5,"v":0},{"s":"T","g":"M","h":13.5,"v":1},{"s":"T","g":"M","h":16.5,"v":3},{"s":"T","g":"M","h":19.5,"v":22},{"s":"T","g":"M","h":22.5,"v":55},{"s":"T","g":"M","h":25.5,"v":80},{"s":"T","g":"M","h":28.5,"v":96},{"s":"T","g":"M","h":31.5,"v":97},{"s":"T","g":"M","h":34.5,"v":96},{"s":"T","g":"M","h":37.5,"v":88},{"s":"T","g":"M","h":40.5,"v":66},{"s":"T","g":"M","h":43.5,"v":25},{"s":"T","g":"M","h":46.5,"v":5},{"s":"T","g":"M","h":49.5,"v":4},{"s":"T","g":"M","h":52.5,"v":3},{"s":"T","g":"M","h":55.5,"v":2},
{"s":"S","g":"W","h":1.5,"v":0},{"s":"S","g":"W","h":4.5,"v":0},{"s":"S","g":"W","h":7.5,"v":0},{"s":"S","g":"W","h":10.5,"v":0},{"s":"S","g":"W","h":13.5,"v":0},{"s":"S","g":"W","h":16.5,"v":0},{"s":"S","g":"W","h":19.5,"v":0},{"s":"S","g":"W","h":22.5,"v":0},{"s":"S","g":"W","h":25.5,"v":0},{"s":"S","g":"W","h":28.5,"v":0},{"s":"S","g":"W","h":31.5,"v":0},{"s":"S","g":"W","h":34.5,"v":-1},{"s":"S","g":"W","h":37.5,"v":12},{"s":"S","g":"W","h":40.5,"v":45},{"s":"S","g":"W","h":43.5,"v":84},{"s":"S","g":"W","h":46.5,"v":48},{"s":"S","g":"W","h":49.5,"v":14},{"s":"S","g":"W","h":52.5,"v":1},{"s":"S","g":"W","h":55.5,"v":0},
{"s":"S","g":"M","h":1.5,"v":0},{"s":"S","g":"M","h":4.5,"v":0},{"s":"S","g":"M","h":7.5,"v":0},{"s":"S","g":"M","h":10.5,"v":0},{"s":"S","g":"M","h":13.5,"v":0},{"s":"S","g":"M","h":16.5,"v":0},{"s":"S","g":"M","h":19.5,"v":0},{"s":"S","g":"M","h":22.5,"v":0},{"s":"S","g":"M","h":25.5,"v":0},{"s":"S","g":"M","h":28.5,"v":0},{"s":"S","g":"M","h":31.5,"v":0},{"s":"S","g":"M","h":34.5,"v":0},{"s":"S","g":"M","h":37.5,"v":10},{"s":"S","g":"M","h":40.5,"v":42},{"s":"S","g":"M","h":43.5,"v":80},{"s":"S","g":"M","h":46.5,"v":42},{"s":"S","g":"M","h":49.5,"v":18},{"s":"S","g":"M","h":52.5,"v":2},{"s":"S","g":"M","h":55.5,"v":1}
]},
"layer":[
{"mark":{"type":"line","interpolate":"cardinal","strokeWidth":3},
"encoding":{
"x":{"field":"h","type":"quantitative","scale":{"domain":[0,57],"nice":false,"zero":false},"axis":{"values":[3,6,9,12,15,18,21,24,27,30,33,36,39,42,45,48,51,54,57],"tickCount":100,"title":"Hours","labelOverlap":false,"labelFlush":false,"labelExpr":"''+datum.value"}},
"y":{"field":"v","type":"quantitative","scale":{"domain":[-20,120],"nice":false},"axis":{"values":[-20,0,20,40,60,80,100,120],"tickCount":100,"title":null,"labelOverlap":false,"labelFlush":false,"labelExpr":"''+datum.value"}},
"color":{"field":"s","type":"nominal","scale":{"domain":["R","T","S","W","M"],"range":["#C00000","#E46C0A","#5A96D8","#000000","#000000"]},"legend":{"title":null,"orient":"right","offset":13,"symbolType":"stroke","symbolStrokeWidth":3,"symbolSize":676,"labelOffset":10,"strokeColor":"#7f7f7f","padding":12,"rowPadding":3,"labelExpr":"datum.label=='R'?'Ring':datum.label=='T'?'Trophozoite':datum.label=='S'?'Schizont':datum.label=='W'?'WT':'3D7/Mutant'","encode":{"symbols":{"update":{"strokeDash":{"signal":"datum.value=='M'?[7,4]:[1,0]"}}}}}},
"strokeOpacity":{"condition":{"test":"datum.s=='T'&&datum.g=='M'","value":0.7},"value":1},
"strokeDash":{"field":"g","type":"nominal","scale":{"domain":["W","M"],"range":[[1,0],[12,7]]},"legend":null}}},
{"data":{"values":[{"t":"WT vs F446I"}]},"mark":{"type":"text","align":"left","baseline":"middle","fontSize":15,"color":"#000"},
"encoding":{"x":{"datum":1.7,"type":"quantitative"},"y":{"datum":117.5,"type":"quantitative"},"text":{"field":"t"}}}
]}
],"spacing":12}
],"spacing":34.4}
]
}
